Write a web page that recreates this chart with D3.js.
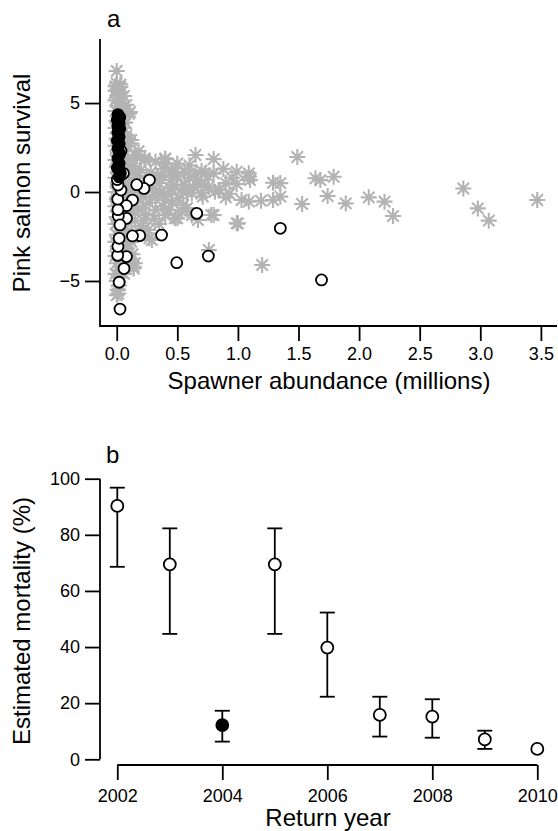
<!DOCTYPE html>
<html>
<head>
<meta charset="utf-8">
<script src="https://cdn.jsdelivr.net/npm/d3@7"></script>
<style>
  body { margin: 0; background: #fff; }
  svg { display: block; font-family: "Liberation Sans", Arial, Helvetica, sans-serif; }
</style>
</head>
<body>
<div id="chart"></div>
<script>
// ---- panel a data: spawner abundance (millions) vs survival ----
var asteriskPts = [
  [0.00, 6.8], [0.00, 6.1], [0.03, 6.05], [-0.01, 5.95], [0.03, 5.9], [0.01, 5.8], [-0.01, 5.7], [0.03, 5.6],
  [0.02, 5.45], [0.00, 5.3], [-0.01, 5.15], [0.03, 5.0], [0.01, 4.85], [0.04, 4.7], [-0.01, 4.55], [0.02, 4.4],
  [0.03, 4.2], [0.00, 4.0], [0.04, 3.8], [-0.01, 3.6], [0.02, 3.4], [0.04, 3.2], [0.00, 3.0], [0.03, 2.8],
  [-0.01, 2.6], [0.04, 2.4], [0.01, 2.2], [0.04, 2.0], [-0.01, 1.8], [0.03, 1.6], [0.00, 1.4], [0.04, 1.2],
  [0.02, 1.0], [-0.01, 0.8], [0.04, 0.6], [0.01, 0.4], [0.04, 0.2], [-0.01, 0.0], [0.03, -0.2], [0.00, -0.4],
  [0.04, -0.6], [-0.01, -0.8], [0.02, -1.0], [0.04, -1.2], [0.00, -1.4], [0.04, -1.6], [-0.01, -1.8], [0.03, -2.0],
  [0.04, -2.2], [0.00, -2.4], [0.02, -2.6], [-0.01, -2.8], [0.04, -3.0], [0.01, -3.2], [0.04, -3.4], [-0.01, -3.6],
  [0.03, -3.8], [0.00, -4.0], [0.04, -4.2], [0.02, -4.4], [-0.01, -4.6], [0.03, -4.8], [0.00, -5.0], [0.02, -5.25],
  [0.01, -5.5], [0.00, -5.8],
  [0.11, 4.5], [0.10, 4.4], [0.12, 2.92], [0.11, 2.74], [0.15, 2.08], [0.165, 2.05], [0.23, 1.89], [0.23, 1.8],
  [0.40, 1.89], [0.40, 1.84], [0.50, 1.6], [0.65, 2.08], [0.80, 1.85], [0.32, 1.7], [0.40, 1.6], [0.48, 1.33],
  [0.56, 1.14], [0.37, 0.96], [0.45, 0.67], [0.56, 0.39], [0.67, 0.67], [0.76, 0.3], [0.84, 0.11], [0.71, -0.26],
  [0.62, -0.07], [0.51, -0.35], [0.40, -0.45], [0.32, -1.0], [0.40, -1.29], [0.50, -1.48], [0.78, -1.29], [0.99, -1.76],
  [0.26, -2.13], [0.18, -1.0], [0.18, 0.11], [0.26, 0.49], [0.20, 1.24], [0.12, 1.42], [0.29, -2.7], [0.15, -4.0],
  [1.03, -0.45], [0.55, -0.73], [0.99, 1.14], [1.09, 1.05], [1.10, 0.67], [0.99, 0.45], [0.81, 0.02], [0.85, 0.11],
  [0.70, -0.07], [0.80, -1.29], [0.67, -1.57], [0.73, 1.05], [0.80, 1.05], [0.76, -3.26], [1.09, 0.86], [1.29, 0.52],
  [1.29, -0.45], [1.19, -0.49], [1.09, -0.54], [1.00, -1.76], [1.20, -4.1], [0.48, -1.48], [0.27, -2.6], [0.14, -4.2],
  [1.49, 1.97], [1.68, 0.67], [1.79, 0.86], [1.74, -0.22], [1.53, -0.67], [1.89, -0.64], [2.08, -0.3], [2.21, -0.54],
  [2.28, -1.35], [2.86, 0.2], [2.98, -0.92], [3.07, -1.61], [3.47, -0.45], [1.35, 0.5], [1.35, -0.26], [1.64, 0.77],
  [0.08, 1.0], [0.10, 0.5], [0.12, 0.0], [0.10, -0.5], [0.14, -0.8], [0.22, -0.3], [0.27, -0.6], [0.30, 0.2],
  [0.35, 0.5], [0.33, -0.2], [0.24, -1.3], [0.15, -1.6], [0.20, -1.9], [0.09, -2.2], [0.12, -2.8], [0.08, -3.2],
  [0.45, 0.2], [0.50, 0.9], [0.60, 0.8], [0.28, 1.1], [0.16, 0.8], [0.06, 1.8], [0.07, 2.3], [0.08, 3.2],
  [0.06, 3.6], [0.07, -1.1], [0.06, -2.5], [0.38, -0.8], [0.58, -0.9], [0.62, -1.3], [0.70, 0.4], [0.90, 0.5],
  [0.93, -0.1], [0.95, 0.8], [0.88, 1.3], [0.60, 1.5], [0.70, 1.2], [0.45, 1.1], [0.10, -3.45], [0.14, -4.3],
  [0.013, -5.7],
  [0.07, 0.3], [0.09, -0.2], [0.13, 0.6], [0.15, 1.2], [0.17, -0.4], [0.19, 0.4], [0.21, -0.9], [0.24, 0.0],
  [0.25, 0.9], [0.29, -0.3], [0.31, -1.5], [0.34, 0.9], [0.36, 0.0], [0.39, 1.3], [0.42, -0.1], [0.43, -1.0],
  [0.47, 0.4], [0.53, 0.1], [0.54, -1.1], [0.58, 0.0], [0.63, 0.3], [0.65, 1.0], [0.09, 1.4], [0.13, 1.9],
  [0.18, 2.3], [0.09, 2.6], [0.11, -1.3], [0.16, -2.3], [0.22, -1.6], [0.13, -3.5], [0.08, -4.0], [0.09, -2.9],
  [0.35, -1.8], [0.46, -0.6], [0.75, 0.9], [0.90, -0.3], [0.07, 3.9], [0.08, 4.9], [0.06, 5.4], [0.06, -4.6]
];
var openPts = [
  [0.27, 0.67], [0.225, 0.2], [0.165, 0.41], [0.13, -0.45], [0.08, -0.77], [0.66, -1.2], [1.35, -2.04], [0.37, -2.42],
  [0.19, -2.45], [0.13, -2.47], [0.756, -3.6], [0.495, -3.97], [0.08, -3.63], [0.06, -4.3], [0.02, -5.07], [0.027, -6.58],
  [0.008, -3.56], [0.01, -3.06], [0.02, -2.6], [0.08, -1.48], [0.013, -1.35], [0.027, -1.85], [0.01, -0.99], [0.008, -0.4],
  [0.035, 0.11], [0.01, 0.39], [1.69, -4.94], [0.035, 2.3], [0.055, 1.05], [0.02, 1.25], [0.005, 0.7]
];
var filledPts = [
  [0.01, 4.35], [0.025, 4.2], [0.005, 4.05], [0.02, 3.85], [0.01, 3.7], [0.025, 3.55], [0.01, 3.35], [0.02, 3.1],
  [0.005, 2.9], [0.02, 2.7], [0.01, 2.45], [0.025, 2.15], [0.01, 1.9], [0.02, 1.6], [0.005, 1.35], [0.03, 1.05],
  [0.02, 0.85]
];
var surviveTicks = [-5, 0, 5];
var abundTicks = [0, 0.5, 1, 1.5, 2, 2.5, 3, 3.5];

// ---- panel b data: estimated mortality by return year ----
var years = [2002, 2003, 2004, 2005, 2006, 2007, 2008, 2009, 2010];
var mortality = [90.3, 69.5, 12.2, 69.5, 39.8, 15.8, 15.2, 7.1, 3.7];
var mortLow = [68.6, 44.7, 6.3, 44.7, 22.3, 8.1, 7.7, 3.7, null];
var mortHigh = [96.8, 82.3, 17.3, 82.3, 52.3, 22.3, 21.4, 10.2, null];
var filledYear = 2004;
var yearTicks = [2002, 2004, 2006, 2008, 2010];
var mortTicks = [0, 20, 40, 60, 80, 100];

var width = 558, height = 831;
var svg = d3.select('#chart').append('svg')
    .attr('width', width)
    .attr('height', height);

function styleAxis(g, size) {
    g.select('.domain').remove();
    g.selectAll('.tick line').attr('stroke', '#000').attr('stroke-width', 1.8);
    g.selectAll('.tick text').attr('fill', '#000').style('font-size', size + 'px');
}

//====== panel a ======
var xA = d3.scaleLinear().domain([-0.138, 3.633]).range([100, 557]);
var yA = d3.scaleLinear().domain([-7.53, 8.6]).range([326, 39]);

var star = 'M-8,0H8M0,-8V8M-5.7,-5.7L5.7,5.7M-5.7,5.7L5.7,-5.7';
svg.append('g').selectAll('path')
    .data(asteriskPts)
    .enter().append('path')
    .attr('d', star)
    .attr('transform', function (d) { return 'translate(' + xA(d[0]) + ',' + yA(d[1]) + ')'; })
    .attr('fill', 'none')
    .attr('stroke', '#b3b3b3')
    .attr('stroke-width', 2.1);

svg.append('g').selectAll('circle')
    .data(openPts)
    .enter().append('circle')
    .attr('cx', function (d) { return xA(d[0]); })
    .attr('cy', function (d) { return yA(d[1]); })
    .attr('r', 5.5)
    .attr('fill', '#fff')
    .attr('stroke', '#000')
    .attr('stroke-width', 1.8);

svg.append('g').selectAll('circle')
    .data(filledPts)
    .enter().append('circle')
    .attr('cx', function (d) { return xA(d[0]); })
    .attr('cy', function (d) { return yA(d[1]); })
    .attr('r', 5.5)
    .attr('fill', '#000')
    .attr('stroke', '#000')
    .attr('stroke-width', 1.8);

// L-shaped frame
svg.append('path')
    .attr('d', 'M' + xA.range()[0] + ',' + yA.range()[1] + 'V' + yA.range()[0] + 'H' + xA.range()[1])
    .attr('fill', 'none')
    .attr('stroke', '#000')
    .attr('stroke-width', 1.8);

svg.append('g')
    .attr('transform', 'translate(100,0)')
    .call(d3.axisLeft(yA).tickValues(surviveTicks).tickSize(15).tickPadding(5).tickFormat(d3.format('d')))
    .call(styleAxis, 18);

svg.append('g')
    .attr('transform', 'translate(0,326)')
    .call(d3.axisBottom(xA).tickValues(abundTicks).tickSize(15).tickPadding(6).tickFormat(d3.format('.1f')))
    .call(styleAxis, 18);

svg.append('text').text('a')
    .attr('x', 107).attr('y', 27)
    .style('font-size', '24px');

svg.append('text').text('Spawner abundance (millions)')
    .attr('x', 329).attr('y', 389)
    .attr('text-anchor', 'middle')
    .style('font-size', '24px');

svg.append('text').text('Pink salmon survival')
    .attr('transform', 'translate(30,183) rotate(-90)')
    .attr('text-anchor', 'middle')
    .style('font-size', '24px');

//====== panel b ======
var xB = d3.scaleLinear().domain([2002, 2010]).range([117.3, 537.3]);
var yB = d3.scaleLinear().domain([0, 100]).range([759.3, 478.7]);

var bData = years.map(function (y, i) {
    return { year: y, value: mortality[i], low: mortLow[i], high: mortHigh[i] };
});
var withBars = bData.filter(function (d) { return d.low !== null; });

//error bars
var bars = svg.append('g').attr('stroke', '#000').attr('stroke-width', 1.8);
bars.selectAll('line.v').data(withBars).enter().append('line')
    .attr('x1', function (d) { return xB(d.year); })
    .attr('x2', function (d) { return xB(d.year); })
    .attr('y1', function (d) { return yB(d.low); })
    .attr('y2', function (d) { return yB(d.high); });
bars.selectAll('line.hi').data(withBars).enter().append('line')
    .attr('x1', function (d) { return xB(d.year) - 7.5; })
    .attr('x2', function (d) { return xB(d.year) + 7.5; })
    .attr('y1', function (d) { return yB(d.high); })
    .attr('y2', function (d) { return yB(d.high); });
bars.selectAll('line.lo').data(withBars).enter().append('line')
    .attr('x1', function (d) { return xB(d.year) - 7.5; })
    .attr('x2', function (d) { return xB(d.year) + 7.5; })
    .attr('y1', function (d) { return yB(d.low); })
    .attr('y2', function (d) { return yB(d.low); });

svg.append('g').selectAll('circle')
    .data(bData)
    .enter().append('circle')
    .attr('cx', function (d) { return xB(d.year); })
    .attr('cy', function (d) { return yB(d.value); })
    .attr('r', 6)
    .attr('fill', function (d) { return d.year === filledYear ? '#000' : '#fff'; })
    .attr('stroke', '#000')
    .attr('stroke-width', 1.8);

//axes
svg.append('line')
    .attr('x1', 100).attr('x2', 100)
    .attr('y1', yB(100)).attr('y2', yB(0))
    .attr('stroke', '#000').attr('stroke-width', 1.8);
svg.append('g')
    .attr('transform', 'translate(100,0)')
    .call(d3.axisLeft(yB).tickValues(mortTicks).tickSize(15).tickPadding(5))
    .call(styleAxis, 18);

svg.append('line')
    .attr('x1', xB(2002)).attr('x2', xB(2010))
    .attr('y1', 765).attr('y2', 765)
    .attr('stroke', '#000').attr('stroke-width', 1.8);
svg.append('g')
    .attr('transform', 'translate(0,765)')
    .call(d3.axisBottom(xB).tickValues(yearTicks).tickSize(15).tickPadding(9).tickFormat(d3.format('d')))
    .call(styleAxis, 18);

svg.append('text').text('b')
    .attr('x', 106).attr('y', 463)
    .style('font-size', '24px');

svg.append('text').text('Return year')
    .attr('x', 328).attr('y', 826)
    .attr('text-anchor', 'middle')
    .style('font-size', '24px');

svg.append('text').text('Estimated mortality (%)')
    .attr('transform', 'translate(30,621) rotate(-90)')
    .attr('text-anchor', 'middle')
    .style('font-size', '24px');
</script>
</body>
</html>
